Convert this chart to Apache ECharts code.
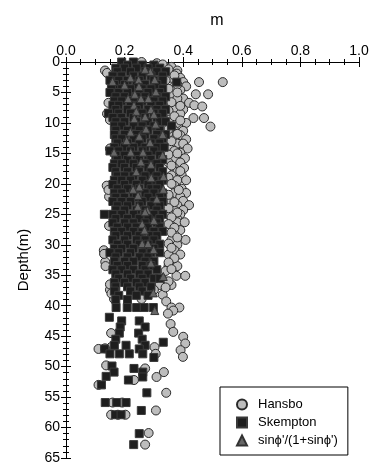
<!DOCTYPE html>
<html><head><meta charset="utf-8">
<script src="https://cdn.jsdelivr.net/npm/echarts@6/dist/echarts.min.js"></script>
<style>html,body{margin:0;padding:0;background:#fff}#c{width:375px;height:465px}</style>
</head><body><div id="c"></div>
<script>
const title = 'm';
const yName = 'Depth(m)';
const legendNames = ['Hansbo', 'Skempton', "sinϕ'/(1+sinϕ')"];
const xTicks = [0, 0.2, 0.4, 0.6, 0.8, 1.0];
const yTicks = [0, 5, 10, 15, 20, 25, 30, 35, 40, 45, 50, 55, 60, 65];

// [m, depth]
const hansbo = [
 [0.258,0.0],[0.34,0.8],[0.36,0.8],[0.38,1.4],[0.133,1.4],[0.378,1.9],[0.35,1.9],
 [0.36,2.6],[0.39,2.6],[0.454,3.3],[0.535,3.3],[0.40,3.3],[0.37,4.0],[0.41,4.0],
 [0.39,4.6],[0.443,5.3],[0.485,5.3],[0.36,5.3],[0.40,6.0],[0.38,6.0],[0.145,6.7],
 [0.42,6.7],[0.438,7.1],[0.465,7.3],[0.37,7.8],[0.40,7.8],[0.39,8.5],[0.14,8.5],
 [0.435,9.2],[0.471,9.2],[0.36,9.2],[0.38,10.0],[0.41,10.0],[0.493,10.6],[0.37,11.3],
 [0.40,11.3],[0.39,12.0],[0.35,12.0],[0.41,12.7],[0.37,12.7],[0.38,13.4],[0.40,13.4],
 [0.415,14.2],[0.36,14.2],[0.15,14.2],[0.39,14.9],[0.406,15.8],[0.37,15.8],[0.39,16.5],
 [0.35,16.5],[0.403,17.4],[0.37,17.4],[0.38,18.0],[0.395,18.6],[0.36,18.6],[0.38,19.4],
 [0.41,19.4],[0.139,20.3],[0.37,20.3],[0.395,20.8],[0.37,21.5],[0.41,21.5],[0.147,22.1],
 [0.39,22.1],[0.36,22.8],[0.40,22.8],[0.38,23.5],[0.42,23.5],[0.37,24.3],[0.40,24.3],
 [0.39,25.0],[0.35,25.0],[0.38,25.8],[0.380,26.3],[0.405,26.3],[0.147,26.9],[0.36,26.9],
 [0.39,27.6],[0.37,28.3],[0.408,29.2],[0.36,29.2],[0.38,30.0],[0.129,30.9],[0.37,30.9],
 [0.35,31.6],[0.39,31.6],[0.134,32.8],[0.36,32.8],[0.35,33.5],[0.38,33.5],[0.34,34.3],
 [0.377,35.1],[0.407,35.1],[0.33,35.7],[0.36,36.6],[0.32,36.6],[0.15,37.4],[0.30,37.4],
 [0.33,38.2],[0.164,38.9],[0.258,38.9],[0.342,39.3],[0.36,40.3],[0.387,40.3],[0.366,40.8],
 [0.348,41.3],[0.357,43.0],[0.154,44.5],[0.366,44.3],[0.400,45.1],[0.407,46.2],
 [0.154,46.8],[0.302,46.8],[0.111,47.1],[0.133,47.0],[0.391,47.3],[0.399,48.4],[0.306,47.9],
 [0.137,49.8],[0.270,50.3],[0.334,50.9],[0.232,52.2],[0.309,51.7],[0.111,53.0],
 [0.342,54.3],[0.159,55.9],[0.192,55.9],[0.307,57.2],[0.154,57.9],[0.177,57.9],[0.203,57.9],
 [0.282,60.9],[0.270,62.8],
 [0.31,0.2],[0.33,0.4],[0.35,1.2],[0.37,2.2],[0.34,3.0],[0.38,3.7],[0.35,4.4],[0.38,5.0],
 [0.36,6.6],[0.39,7.2],[0.35,8.0],[0.37,8.9],[0.39,9.6],[0.36,10.6],[0.35,11.0],[0.38,11.8],
 [0.36,13.0],[0.37,14.6],[0.35,15.2],[0.38,15.0],[0.36,17.0],[0.39,17.9],[0.35,19.0],
 [0.36,20.0],[0.385,21.0],[0.35,21.8],[0.37,23.0],[0.35,24.0],[0.38,24.7],[0.36,25.5],
 [0.35,26.6],[0.37,27.2],[0.36,28.0],[0.38,28.8],[0.35,29.8],[0.36,30.5],[0.37,32.2],
 [0.35,32.9],[0.36,34.0],[0.35,36.0],[0.34,37.0],
 [0.14,1.8],[0.15,9.5],[0.145,21.0],[0.13,31.5],[0.135,33.5],[0.15,36.5],[0.155,38.0]
];

const skempton = [
 [0.19,0.0],[0.23,0.0],[0.21,0.5],[0.26,0.5],[0.30,0.5],
 [0.17,1.0],[0.20,1.0],[0.24,1.0],[0.28,1.0],[0.32,1.0],
 [0.175,1.6],[0.22,1.6],[0.27,1.6],[0.31,1.6],[0.34,1.6],
 [0.16,2.3],[0.19,2.3],[0.23,2.3],[0.26,2.3],[0.29,2.3],[0.33,2.3],
 [0.15,3.0],[0.18,3.0],[0.21,3.0],[0.25,3.0],[0.30,3.0],[0.33,3.0],[0.378,3.3],
 [0.165,3.7],[0.20,3.7],[0.24,3.7],[0.27,3.7],[0.31,3.7],
 [0.155,4.4],[0.19,4.4],[0.22,4.4],[0.26,4.4],[0.29,4.4],[0.33,4.4],
 [0.15,5.0],[0.18,5.0],[0.21,5.0],[0.25,5.0],[0.28,5.0],[0.32,5.0],
 [0.17,5.7],[0.20,5.7],[0.24,5.7],[0.27,5.7],[0.31,5.7],[0.34,5.7],
 [0.165,6.4],[0.19,6.4],[0.23,6.4],[0.26,6.4],[0.30,6.4],[0.33,6.4],
 [0.16,7.1],[0.18,7.1],[0.22,7.1],[0.25,7.1],[0.29,7.1],[0.32,7.1],
 [0.17,7.8],[0.21,7.8],[0.24,7.8],[0.28,7.8],[0.31,7.8],[0.34,7.8],
 [0.145,8.4],[0.18,8.4],[0.22,8.4],[0.26,8.4],[0.30,8.4],[0.33,8.4],
 [0.16,9.1],[0.19,9.1],[0.23,9.1],[0.27,9.1],[0.31,9.1],
 [0.17,9.8],[0.20,9.8],[0.24,9.8],[0.28,9.8],[0.32,9.8],[0.34,9.8],
 [0.165,10.5],[0.19,10.5],[0.23,10.5],[0.26,10.5],[0.30,10.5],[0.36,10.5],
 [0.17,11.2],[0.21,11.2],[0.25,11.2],[0.28,11.2],[0.32,11.2],
 [0.165,11.9],[0.20,11.9],[0.24,11.9],[0.27,11.9],[0.31,11.9],[0.34,11.9],
 [0.17,12.6],[0.19,12.6],[0.23,12.6],[0.26,12.6],[0.30,12.6],[0.33,12.6],
 [0.175,13.3],[0.21,13.3],[0.25,13.3],[0.29,13.3],[0.32,13.3],
 [0.165,14.0],[0.20,14.0],[0.23,14.0],[0.27,14.0],[0.31,14.0],[0.335,14.0],
 [0.15,14.6],[0.18,14.6],[0.22,14.6],[0.26,14.6],[0.30,14.6],
 [0.17,15.3],[0.20,15.3],[0.24,15.3],[0.28,15.3],[0.32,15.3],
 [0.175,16.0],[0.21,16.0],[0.25,16.0],[0.29,16.0],[0.33,16.0],
 [0.165,16.7],[0.19,16.7],[0.23,16.7],[0.27,16.7],[0.31,16.7],
 [0.16,17.3],[0.20,17.3],[0.24,17.3],[0.28,17.3],[0.32,17.3],
 [0.17,18.0],[0.21,18.0],[0.25,18.0],[0.29,18.0],[0.33,18.0],
 [0.175,18.7],[0.20,18.7],[0.23,18.7],[0.27,18.7],[0.31,18.7],
 [0.165,19.4],[0.19,19.4],[0.22,19.4],[0.26,19.4],[0.30,19.4],[0.33,19.4],
 [0.16,20.1],[0.20,20.1],[0.24,20.1],[0.28,20.1],[0.32,20.1],
 [0.175,20.8],[0.21,20.8],[0.25,20.8],[0.29,20.8],[0.31,20.8],
 [0.165,21.5],[0.19,21.5],[0.23,21.5],[0.27,21.5],[0.30,21.5],[0.33,21.5],
 [0.17,22.2],[0.20,22.2],[0.24,22.2],[0.28,22.2],[0.32,22.2],
 [0.16,22.9],[0.19,22.9],[0.22,22.9],[0.26,22.9],[0.30,22.9],[0.33,22.9],
 [0.175,23.6],[0.21,23.6],[0.25,23.6],[0.29,23.6],[0.32,23.6],
 [0.17,24.3],[0.20,24.3],[0.24,24.3],[0.27,24.3],[0.31,24.3],
 [0.131,25.0],[0.16,25.0],[0.19,25.0],[0.23,25.0],[0.27,25.0],[0.30,25.0],[0.33,25.0],
 [0.17,25.7],[0.21,25.7],[0.25,25.7],[0.28,25.7],[0.32,25.7],
 [0.16,26.4],[0.20,26.4],[0.23,26.4],[0.27,26.4],[0.31,26.4],
 [0.175,27.1],[0.21,27.1],[0.24,27.1],[0.28,27.1],[0.32,27.1],
 [0.165,27.8],[0.19,27.8],[0.23,27.8],[0.26,27.8],[0.30,27.8],[0.33,27.8],
 [0.17,28.5],[0.21,28.5],[0.25,28.5],[0.29,28.5],[0.31,28.5],
 [0.16,29.2],[0.20,29.2],[0.24,29.2],[0.27,29.2],[0.30,29.2],
 [0.175,29.9],[0.21,29.9],[0.25,29.9],[0.28,29.9],[0.32,29.9],
 [0.165,30.6],[0.19,30.6],[0.23,30.6],[0.27,30.6],[0.30,30.6],
 [0.15,31.3],[0.18,31.3],[0.22,31.3],[0.26,31.3],[0.29,31.3],[0.32,31.3],
 [0.17,32.0],[0.21,32.0],[0.25,32.0],[0.28,32.0],
 [0.165,32.7],[0.20,32.7],[0.23,32.7],[0.27,32.7],[0.30,32.7],
 [0.175,33.4],[0.21,33.4],[0.26,33.4],[0.29,33.4],
 [0.16,34.1],[0.19,34.1],[0.23,34.1],[0.27,34.1],[0.31,34.1],
 [0.17,34.8],[0.21,34.8],[0.25,34.8],[0.28,34.8],
 [0.18,35.5],[0.22,35.5],[0.26,35.5],[0.30,35.5],[0.32,35.5],
 [0.165,36.2],[0.20,36.2],[0.24,36.2],[0.27,36.2],
 [0.17,36.9],[0.21,36.9],[0.25,36.9],[0.29,36.9],
 [0.165,37.6],[0.22,37.6],[0.26,37.6],
 [0.18,38.3],[0.24,38.3],[0.28,38.3],[0.17,39.0],[0.21,39.0],
 [0.171,40.3],[0.209,40.3],[0.241,40.3],[0.267,40.3],[0.298,40.3],
 [0.148,41.9],[0.19,42.5],[0.25,42.5],[0.185,43.5],[0.27,43.5],
 [0.182,44.5],[0.248,44.5],[0.17,45.5],[0.26,45.5],[0.332,46.0],
 [0.165,46.5],[0.205,46.5],[0.27,46.5],[0.132,47.1],[0.25,47.1],
 [0.150,47.9],[0.182,47.9],[0.216,47.9],[0.262,47.9],[0.30,48.5],
 [0.157,49.9],[0.232,50.3],[0.164,50.9],[0.262,50.9],
 [0.137,51.6],[0.213,52.2],[0.262,51.7],[0.121,53.0],[0.276,54.3],
 [0.134,55.9],[0.173,55.9],[0.205,55.9],[0.257,57.2],
 [0.169,57.9],[0.188,57.9],[0.250,61.0],[0.231,62.8]
];

const sinPhi = [
 [0.288,1.6],[0.22,2.6],[0.248,2.9],[0.303,2.9],[0.159,3.2],[0.249,4.0],[0.307,4.9],
 [0.235,5.3],[0.212,6.0],[0.256,6.0],[0.281,6.0],[0.232,7.1],[0.29,7.8],[0.24,8.1],
 [0.233,9.3],[0.306,10.2],[0.273,11.0],[0.33,11.9],[0.207,12.9],[0.287,13.2],
 [0.164,14.8],[0.221,14.8],[0.263,14.8],[0.33,15.3],[0.256,16.4],[0.333,18.8],
 [0.291,19.0],[0.250,20.5],[0.229,20.9],[0.332,20.9],[0.246,21.9],[0.245,23.7],
 [0.278,24.4],[0.27,24.6],[0.26,26.6],[0.268,27.6],[0.26,29.8],[0.28,29.8],
 [0.299,30.8],[0.332,35.2],[0.298,37.9],[0.303,40.8],
 [0.27,1.2],[0.20,3.8],[0.30,8.6],[0.27,9.0],[0.22,11.5],[0.25,12.2],[0.29,16.8],
 [0.24,18.0],[0.31,22.5],[0.30,26.0],[0.29,33.0]
];

const chart = echarts.init(document.getElementById('c'), null, {renderer:'canvas'});
const F = 'Liberation Sans, Arial, sans-serif';
const axisLine = {show:true, lineStyle:{color:'#000', width:1}};
const tick = {inside:true, length:5, lineStyle:{color:'#000'}};
chart.setOption({
  animation:false,
  backgroundColor:'#fff',
  title:{text:title, left:212, top:8, textAlign:'center',
    textStyle:{fontFamily:F, fontSize:16, fontWeight:'normal', color:'#000'}},
  grid:{left:66, right:16, top:62, bottom:2},
  legend:{
    orient:'vertical', left:220, top:387, width:129, height:71,
    borderColor:'#000', borderWidth:1, padding:[11,10,8,16], itemGap:5,
    itemWidth:10, itemHeight:10,
    textStyle:{fontFamily:F, fontSize:13, color:'#000', padding:[0,0,0,6]},
    data:legendNames
  },
  xAxis:[
    {type:'value', position:'top', min:0, max:1, interval:0.2,
     axisLine:axisLine, axisTick:tick,
     minorTick:{show:true, splitNumber:4, length:3, lineStyle:{color:'#000'}},
     splitLine:{show:false},
     axisLabel:{fontFamily:F, fontSize:14, color:'#000', margin:4,
       formatter:v=>xTicks.includes(+v.toFixed(1))?v.toFixed(1):''}},
    {type:'value', position:'bottom', min:0, max:1, interval:0.2,
     axisLine:axisLine, axisTick:tick,
     minorTick:{show:true, splitNumber:4, length:3, lineStyle:{color:'#000'}},
     splitLine:{show:false}, axisLabel:{show:false}}
  ],
  yAxis:[
    {type:'value', inverse:true, min:0, max:65, interval:5, position:'left',
     name:yName, nameLocation:'middle', nameGap:35, nameRotate:90,
     nameTextStyle:{fontFamily:F, fontSize:15, color:'#000'},
     axisLine:axisLine, axisTick:tick,
     minorTick:{show:true, splitNumber:5, length:3, lineStyle:{color:'#000'}},
     splitLine:{show:false},
     axisLabel:{fontFamily:F, fontSize:14, color:'#000', margin:6,
       formatter:v=>yTicks.includes(v)?String(v):''}},
    {type:'value', inverse:true, min:0, max:65, interval:5, position:'right',
     axisLine:axisLine, axisTick:tick,
     minorTick:{show:true, splitNumber:5, length:3, lineStyle:{color:'#000'}},
     splitLine:{show:false}, axisLabel:{show:false}}
  ],
  series:[
    {name:legendNames[0], type:'scatter', symbol:'circle', symbolSize:9,
     data:hansbo, xAxisIndex:0, yAxisIndex:0,
     itemStyle:{color:'#bdbdbd', borderColor:'#2a2a2a', borderWidth:1, opacity:1}},
    {name:legendNames[1], type:'scatter', symbol:'rect', symbolSize:8,
     data:skempton, xAxisIndex:0, yAxisIndex:0,
     itemStyle:{color:'#1e1e1e', borderColor:'#3a3a3a', borderWidth:1, opacity:1}},
    {name:legendNames[2], type:'scatter', symbol:'triangle', symbolSize:8,
     data:sinPhi, xAxisIndex:0, yAxisIndex:0,
     itemStyle:{color:'#666', borderColor:'#333', borderWidth:1, opacity:1}}
  ]
});
</script></body></html>
